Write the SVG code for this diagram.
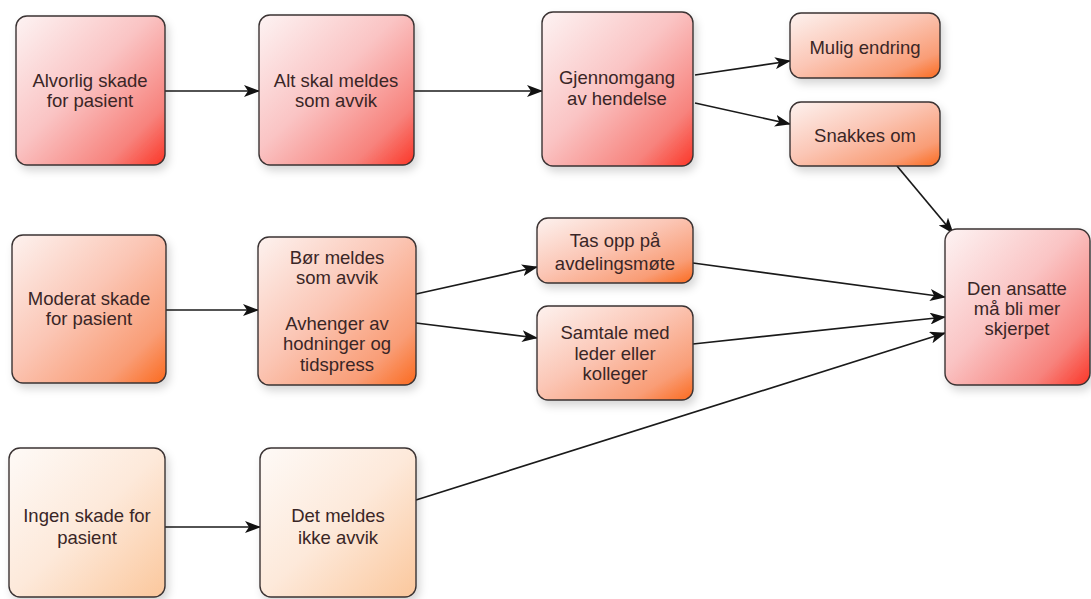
<svg xmlns="http://www.w3.org/2000/svg" width="1091" height="599" viewBox="0 0 1091 599">
<style>
.box{stroke:#3a3333;stroke-width:1.4;filter:url(#sh)}
.red{fill:url(#gRed)}
.org{fill:url(#gOrg)}
.lt{fill:url(#gLt)}
text{font-family:"Liberation Sans",Arial,sans-serif;font-size:18.5px;fill:#3a2626;text-anchor:middle}
.edge{stroke:#1a1a1a;stroke-width:1.7;fill:none;marker-end:url(#arr)}
</style>
<defs>
<linearGradient id="gRed" x1="0" y1="0" x2="1" y2="1">
<stop offset="0" stop-color="#fdf3f3"/>
<stop offset="0.45" stop-color="#fac4c4"/>
<stop offset="0.8" stop-color="#f7837d"/>
<stop offset="1" stop-color="#fb3526"/>
</linearGradient>
<linearGradient id="gOrg" x1="0" y1="0" x2="1" y2="1">
<stop offset="0" stop-color="#fdf2ef"/>
<stop offset="0.45" stop-color="#fbc6b5"/>
<stop offset="0.8" stop-color="#f99d76"/>
<stop offset="1" stop-color="#fb6a1e"/>
</linearGradient>
<linearGradient id="gLt" x1="0" y1="0" x2="1" y2="1">
<stop offset="0" stop-color="#fefaf7"/>
<stop offset="0.5" stop-color="#fde9da"/>
<stop offset="1" stop-color="#fbc79c"/>
</linearGradient>
<filter id="sh" x="-15%" y="-15%" width="140%" height="140%">
<feDropShadow dx="3" dy="5" stdDeviation="4" flood-color="#000" flood-opacity="0.16"/>
</filter>
<marker id="arr" viewBox="0 0 16 12" refX="15" refY="6" markerWidth="16" markerHeight="12" markerUnits="userSpaceOnUse" orient="auto">
<path d="M0,0 L16,6 L0,12 L4,6 z" fill="#111"/>
</marker>
</defs>
<g id="connectors">
<line class="edge" x1="165" y1="91" x2="259" y2="91"/>
<line class="edge" x1="414" y1="91" x2="542" y2="91"/>
<line class="edge" x1="695" y1="75" x2="790" y2="61"/>
<line class="edge" x1="695" y1="103" x2="790" y2="124"/>
<line class="edge" x1="897" y1="166" x2="953" y2="233"/>
<line class="edge" x1="166" y1="310" x2="258" y2="310"/>
<line class="edge" x1="416" y1="294" x2="537" y2="267"/>
<line class="edge" x1="416" y1="323" x2="537" y2="338"/>
<line class="edge" x1="693" y1="263" x2="945" y2="297"/>
<line class="edge" x1="693" y1="344" x2="945" y2="317"/>
<line class="edge" x1="416" y1="500" x2="945" y2="333"/>
<line class="edge" x1="165" y1="527" x2="260" y2="527"/>
</g>
<g id="n1"><rect class="box red" x="16" y="16" width="149" height="149" rx="11"/><text x="90" y="87">Alvorlig skade</text><text x="90" y="107">for pasient</text></g>
<g id="n2"><rect class="box red" x="259" y="15" width="155" height="150" rx="11"/><text x="336" y="87">Alt skal meldes</text><text x="336" y="107">som avvik</text></g>
<g id="n3"><rect class="box red" x="542" y="12" width="151" height="154" rx="11"/><text x="617" y="84">Gjennomgang</text><text x="617" y="105">av hendelse</text></g>
<g id="n4"><rect class="box org" x="790" y="13" width="150" height="65" rx="11"/><text x="865" y="54">Mulig endring</text></g>
<g id="n5"><rect class="box org" x="790" y="102" width="150" height="64" rx="11"/><text x="865" y="142">Snakkes om</text></g>
<g id="n6"><rect class="box red" x="945" y="229" width="145" height="156" rx="12"/><text x="1017" y="295">Den ansatte</text><text x="1017" y="315">må bli mer</text><text x="1017" y="335">skjerpet</text></g>
<g id="n7"><rect class="box org" x="12" y="235" width="154" height="148" rx="11"/><text x="89" y="305">Moderat skade</text><text x="89" y="325">for pasient</text></g>
<g id="n8"><rect class="box org" x="258" y="237" width="158" height="148" rx="11"/><text x="337" y="264">Bør meldes</text><text x="337" y="284">som avvik</text><text x="337" y="330">Avhenger av</text><text x="337" y="350">hodninger og</text><text x="337" y="371">tidspress</text></g>
<g id="n9"><rect class="box org" x="537" y="218" width="156" height="65" rx="11"/><text x="615" y="247">Tas opp på</text><text x="615" y="270">avdelingsmøte</text></g>
<g id="n10"><rect class="box org" x="537" y="306" width="156" height="94" rx="11"/><text x="615" y="339">Samtale med</text><text x="615" y="360">leder eller</text><text x="615" y="380">kolleger</text></g>
<g id="n11"><rect class="box lt" x="9" y="448" width="156" height="149" rx="11"/><text x="87" y="522">Ingen skade for</text><text x="87" y="544">pasient</text></g>
<g id="n12"><rect class="box lt" x="260" y="448" width="156" height="149" rx="11"/><text x="338" y="522">Det meldes</text><text x="338" y="544">ikke avvik</text></g>
</svg>
